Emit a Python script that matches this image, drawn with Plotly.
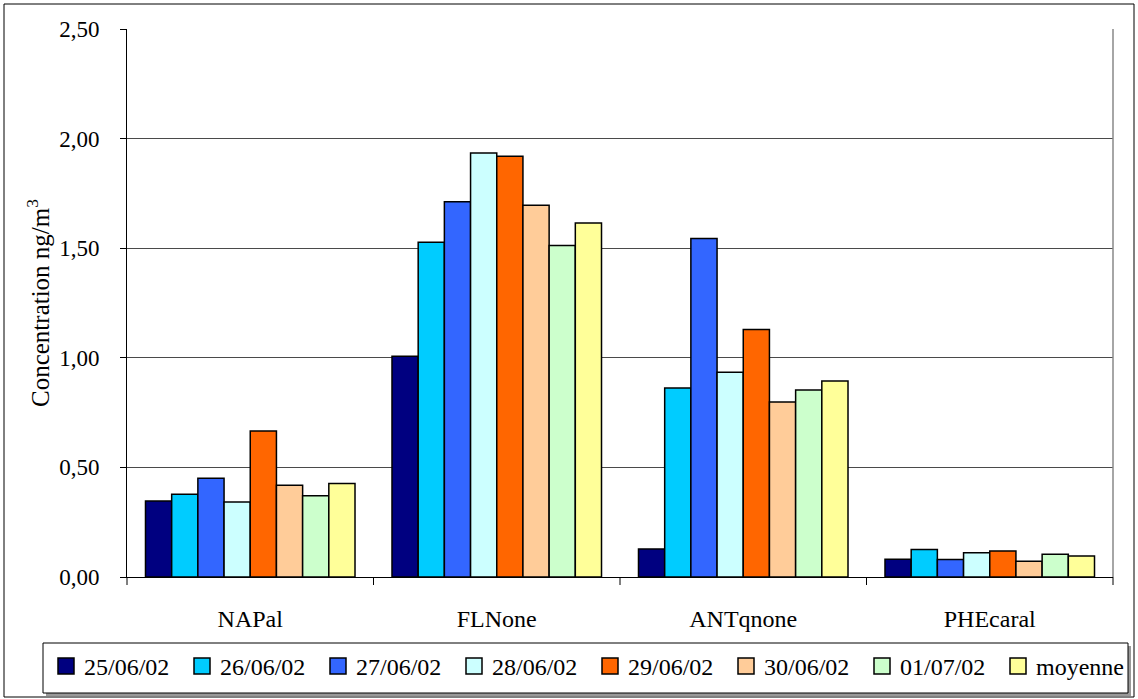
import plotly.graph_objects as go

categories = ["NAPal", "FLNone", "ANTqnone", "PHEcaral"]
series_names = ["25/06/02", "26/06/02", "27/06/02", "28/06/02", "29/06/02", "30/06/02", "01/07/02", "moyenne"]
v_25_06 = [0.347, 1.007, 0.128, 0.081]
v_26_06 = [0.377, 1.527, 0.862, 0.126]
v_27_06 = [0.450, 1.712, 1.544, 0.080]
v_28_06 = [0.342, 1.934, 0.934, 0.111]
v_29_06 = [0.666, 1.919, 1.129, 0.119]
v_30_06 = [0.418, 1.696, 0.798, 0.072]
v_01_07 = [0.371, 1.512, 0.853, 0.104]
v_moy = [0.426, 1.615, 0.894, 0.096]
series_values = [v_25_06, v_26_06, v_27_06, v_28_06, v_29_06, v_30_06, v_01_07, v_moy]
colors = ["#000080", "#00CCFF", "#3366FF", "#CCFFFF", "#FF6600", "#FFCC99", "#CCFFCC", "#FFFF99"]
y_ticks = [0, 0.5, 1.0, 1.5, 2.0, 2.5]

W, H = 1138, 699
L, R, T, B = 127, 25, 29, 122
pw, ph = W - L - R, H - T - B

def px(x):
    return (x - L) / pw

def py(y):
    return (H - B - y) / ph

font_family = "Liberation Serif"

fig = go.Figure()
for name, vals, col in zip(series_names, series_values, colors):
    fig.add_trace(go.Bar(
        x=categories, y=vals, name=name, showlegend=False,
        marker=dict(color=col, line=dict(color="black", width=1.5)),
    ))

fig.update_layout(
    width=W, height=H,
    margin=dict(l=L, r=R, t=T, b=B, autoexpand=False),
    paper_bgcolor="white", plot_bgcolor="white",
    barmode="group", bargap=0.15, bargroupgap=0,
    separators=", ",
    font=dict(family=font_family, size=22, color="black"),
    showlegend=False,
    xaxis=dict(
        showgrid=False, showline=True, linecolor="black", linewidth=1,
        ticks="", tickfont=dict(family=font_family, size=24), ticklabelstandoff=20,
    ),
    yaxis=dict(
        range=[0, 2.5], tickvals=y_ticks, tickformat=".2f",
        showgrid=True, gridcolor="#4a4a4a", gridwidth=1,
        showline=True, linecolor="black", linewidth=1,
        ticks="outside", ticklen=6, tickcolor="black",
        tickfont=dict(family=font_family, size=23), ticklabelstandoff=16,
        title=dict(text="Concentration ng/m<sup>3</sup>",
                   font=dict(family=font_family, size=25), standoff=2),
        zeroline=False,
    ),
)

shapes = []
annotations = []
for i in range(len(categories) + 1):
    xp = i / len(categories)
    shapes.append(dict(type="line", xref="paper", yref="paper", x0=xp, x1=xp,
                       y0=0, y1=-8 / ph, line=dict(color="black", width=1)))
shapes.append(dict(type="line", xref="paper", yref="paper", x0=1, x1=1, y0=0, y1=1,
                   line=dict(color="#888888", width=1.5)))
# legend box with shadow
shapes.append(dict(type="rect", xref="paper", yref="paper", x0=px(46), x1=px(1131),
                   y0=py(696), y1=py(646), line=dict(width=0), fillcolor="#999999"))
shapes.append(dict(type="rect", xref="paper", yref="paper", x0=px(43), x1=px(1128),
                   y0=py(693), y1=py(643), line=dict(color="black", width=1), fillcolor="white"))
# legend entries
for i, (name, col) in enumerate(zip(series_names, colors)):
    sx = 58 + 136 * i
    shapes.append(dict(type="rect", xref="paper", yref="paper",
                       x0=px(sx), x1=px(sx + 16), y0=py(674), y1=py(658),
                       line=dict(color="black", width=1.5), fillcolor=col))
    annotations.append(dict(xref="paper", yref="paper", x=px(sx + 24), y=py(667),
                            xanchor="left", yanchor="middle", showarrow=False,
                            text=name, font=dict(family=font_family, size=24, color="black")))
# outer frame
shapes.append(dict(type="rect", xref="paper", yref="paper", x0=px(4), x1=px(1134),
                   y0=py(697), y1=py(4), line=dict(color="black", width=1)))
fig.update_layout(shapes=shapes, annotations=annotations)

fig.write_html("out.html", config={"displayModeBar": False},
               post_script="document.body.style.margin='0';")
